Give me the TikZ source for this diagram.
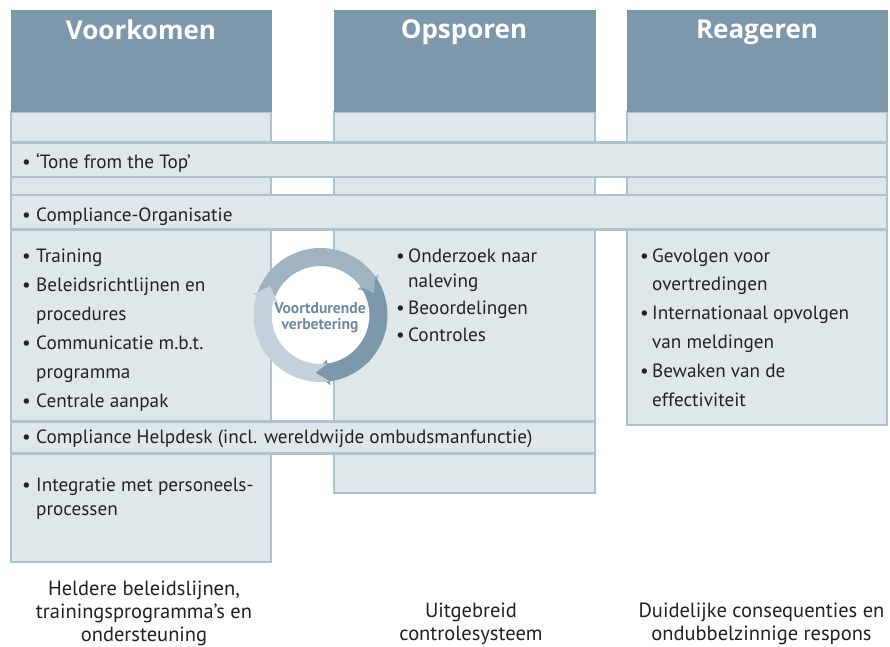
\documentclass[tikz,border=0pt]{standalone}
\usepackage{fontspec}
\setmainfont{PT Sans}
\newfontfamily\hdrfont{Open Sans}
\definecolor{hdrc}{HTML}{7C98AA}
\definecolor{bodyc}{HTML}{E0E7EB}
\definecolor{bordc}{HTML}{AFC3CE}
\definecolor{txtc}{HTML}{222222}
\definecolor{cyct}{HTML}{6F8B9E}
\definecolor{arA}{HTML}{9FB3C1}
\definecolor{arB}{HTML}{7C98AA}
\definecolor{arC}{HTML}{C4D1DA}
\newcommand\bl[1]{\llap{\makebox[#1pt][l]{•}}}
\newcommand\Ro{67}
\newcommand\Ri{49}
\newcommand\Rm{58}
\newcommand\hd{13}
\newcommand\ringarrow[3]{%
  \fill[#1] (#2+\hd:\Ro) arc[start angle=#2+\hd, end angle=#3+\hd, radius=\Ro]
    -- (#3+\hd:\Ro+4) -- (#3:\Rm) -- (#3+\hd:\Ri-4) -- (#3+\hd:\Ri)
    arc[start angle=#3+\hd, end angle=#2+\hd, radius=\Ri] -- (#2:\Rm) -- cycle;}
\tikzset{
  colbox/.style={fill=bodyc, draw=bordc, line width=2.2pt},
  hdrbox/.style={fill=hdrc},
  hdrtxt/.style={text=white, font=\hdrfont\fontsize{26}{30}\selectfont\bfseries, anchor=base, inner sep=0pt},
  txt/.style={text=txtc, font=\fontsize{19.2}{29}\selectfont, inner sep=0pt, anchor=base west},
  foot/.style={text=txtc, font=\fontsize{20.5}{23}\selectfont, inner sep=0pt, anchor=base},
  cyctxt/.style={text=cyct, font=\fontsize{15.6}{16}\selectfont\bfseries, inner sep=0pt, anchor=base}
}
\begin{document}
\begin{tikzpicture}[x=1pt,y=-1pt]
\useasboundingbox (0,0) rectangle (890,646);
% columns
\draw[colbox] (11,112) rectangle (271,562);
\draw[colbox] (334,112) rectangle (595,493);
\draw[colbox] (627,112) rectangle (887,425);
% bands
\draw[colbox] (11,142.5) rectangle (887,177);
\draw[colbox] (11,195) rectangle (887,229.5);
\draw[colbox] (11,421.5) rectangle (595,453.5);
% headers
\fill[hdrbox] (11,10) rectangle (272,112);
\fill[hdrbox] (334,10) rectangle (596,112);
\fill[hdrbox] (627,10) rectangle (888,112);
\node[hdrtxt] (h1) at (141,39) {Voorkomen};
\node[hdrtxt] (h2) at (464,38) {Opsporen};
\node[hdrtxt] (h3) at (757,38) {Reageren};
% band texts
\node[txt] (tone) at (36,168) {\bl{14}‘Tone from the Top’};
\node[txt] (org) at (36,221) {\bl{14}Compliance-Organisatie};
\node[txt] (help) at (36,443) {\bl{14}Compliance Helpdesk (incl. wereldwijde ombudsmanfunctie)};
% lists
\node[txt] (lista) at (36,262) {\begin{tabular}[t]{@{}l@{}}
\bl{14}Training\\
\bl{14}Beleidsrichtlijnen en\\
procedures\\
\bl{14}Communicatie m.b.t.\\
programma\\
\bl{14}Centrale aanpak
\end{tabular}};
\node[txt, font=\fontsize{19.2}{24}\selectfont] (listb) at (36,491) {\begin{tabular}[t]{@{}l@{}}
\bl{14}Integratie met personeels-\\
processen
\end{tabular}};
\node[txt, font=\fontsize{19.2}{25}\selectfont] (listm) at (408,262) {\begin{tabular}[t]{@{}l@{}}
\bl{12}Onderzoek naar\\
naleving\\[2pt]
\bl{12}Beoordelingen\\[2pt]
\bl{12}Controles
\end{tabular}};
\node[txt, font=\fontsize{19.2}{28.8}\selectfont] (listr) at (652,262) {\begin{tabular}[t]{@{}l@{}}
\bl{12}Gevolgen voor\\
overtredingen\\
\bl{12}Internationaal opvolgen\\
van meldingen\\
\bl{12}Bewaken van de\\
effectiviteit
\end{tabular}};
% cycle
\begin{scope}[shift={(320.5,315)}, yscale=-1]
\fill[white] (0,0) circle[radius=\Ri];
\ringarrow{arA}{150}{22}
\ringarrow{arB}{22}{-95}
\ringarrow{arC}{-95}{-210}
\end{scope}
\node[cyctxt] (cyc) at (320,313) {\begin{tabular}[t]{@{}c@{}}Voortdurende\\verbetering\end{tabular}};
% footers
\node[foot] (f1) at (144,595) {\begin{tabular}[t]{@{}c@{}}Heldere beleidslijnen,\\trainingsprogramma’s en\\ondersteuning\end{tabular}};
\node[foot] (f2) at (471,617) {\begin{tabular}[t]{@{}c@{}}Uitgebreid\\controlesysteem\end{tabular}};
\node[foot] (f3) at (761.5,617) {\begin{tabular}[t]{@{}c@{}}Duidelijke consequenties en\\ondubbelzinnige respons\end{tabular}};
\end{tikzpicture}
\end{document}
